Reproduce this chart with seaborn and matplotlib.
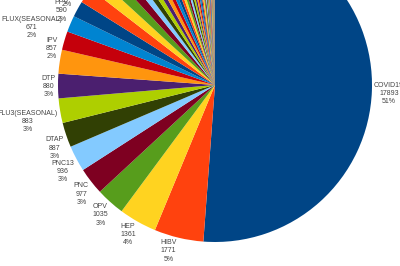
import numpy as np
import matplotlib
matplotlib.use("Agg")
import matplotlib.pyplot as plt
import seaborn as sns

# vaccine types, largest first (clockwise from the top)
names = ["COVID19", "HIBV", "HEP", "OPV", "PNC", "PNC13", "DTAP",
         "FLU3(SEASONAL)", "DTP", "IPV", "FLUX(SEASONAL)", "PPV",
         "MMR", "VARCEL", "HPV4", "TDAP", "HEPA", "MNQ", "RV5", "FLU4",
         "HEPAB", "TD", "DTAPIPV", "VARZOS", "MMRV",
         "DTAPHEPBIP", "FLUN3", "HPV9", "DT", "RV1", "MEN", "FLUC4",
         "FLU(H1N1)", "HBPV", "DTPHIB", "FLUA3", "RAB", "TYP", "JEV", "YF",
         "FLUR4", "MENB", "PNC20", "DTAPIPVHIB", "SMALL", "ANTH", "MU", "RUB",
         "MEA", "BCG", "CHOL", "LYME", "TTOX", "UNK", "MM", "MER", "DTPPHIB",
         "FLUN4", "FLUA4", "DTIPV", "HPVX", "PNC15", "PNC10", "ADEN", "EBZR",
         "JEVX", "PER", "PLAGUE", "TBE", "DTOX", "HBHEPB"]
counts = [17893, 1771, 1361, 1035, 977, 936, 887, 883, 880, 857, 671, 590,
          575, 560, 470, 440, 380, 280, 250, 235, 225, 215, 195, 175, 160,
          140, 132, 125, 118, 110, 104, 98, 92, 87, 82, 77, 72, 68, 64, 60,
          56, 52, 49, 46, 43, 40, 37, 34, 31, 28, 26, 24, 22, 20, 18, 16, 14,
          12, 10, 9, 8, 7, 6, 5, 4, 3, 3, 2, 2, 1, 1]

# LibreOffice default chart colours
palette = ["#004586", "#ff420e", "#ffd320", "#579d1c", "#7e0021", "#83caff",
           "#314004", "#aecf00", "#4b1f6f", "#ff950e", "#c5000b", "#0084d1"]

sns.set_theme(style="white")
plt.rcParams["font.family"] = ["Liberation Sans", "DejaVu Sans"]

total = sum(counts)
colors = [palette[i % len(palette)] for i in range(len(counts))]

fig = plt.figure(figsize=(4, 2.66), dpi=100)
# pie is larger than the canvas: only its lower part is visible
ax = fig.add_axes([58 / 400, 24 / 266, 314 / 400, 314 / 266])
wedges, _ = ax.pie(counts, colors=colors, startangle=90, counterclock=False,
                   wedgeprops={"linewidth": 0})
ax.set_xlim(-1, 1)
ax.set_ylim(-1, 1)
ax.axis("off")

fs = 5.0
ls = 1.25
half_h = 3 * fs * ls / 2
fig_h = fig.get_size_inches()[1] * fig.dpi
for w, n, v in zip(wedges, names, counts):
    mid = np.deg2rad((w.theta1 + w.theta2) / 2)
    x, y = np.cos(mid), np.sin(mid)
    # labels anchored above the canvas would not show anyway
    if ax.transData.transform((x, y))[1] > fig_h:
        continue
    label = f"{n}\n{v}\n{v / total * 100:.0f}%"
    frac = np.clip((8 if y > 0 else 5) * y, -1, 1)
    dx = 1.5 if x > 0 else -1.5
    ax.annotate(label, xy=(x, y), xytext=(dx, frac * half_h),
                textcoords="offset points",
                ha="left" if x > 0 else "right", va="center",
                multialignment="center", fontsize=fs, linespacing=ls,
                color="#444444", annotation_clip=False)

fig.savefig("out.png", dpi=100)
